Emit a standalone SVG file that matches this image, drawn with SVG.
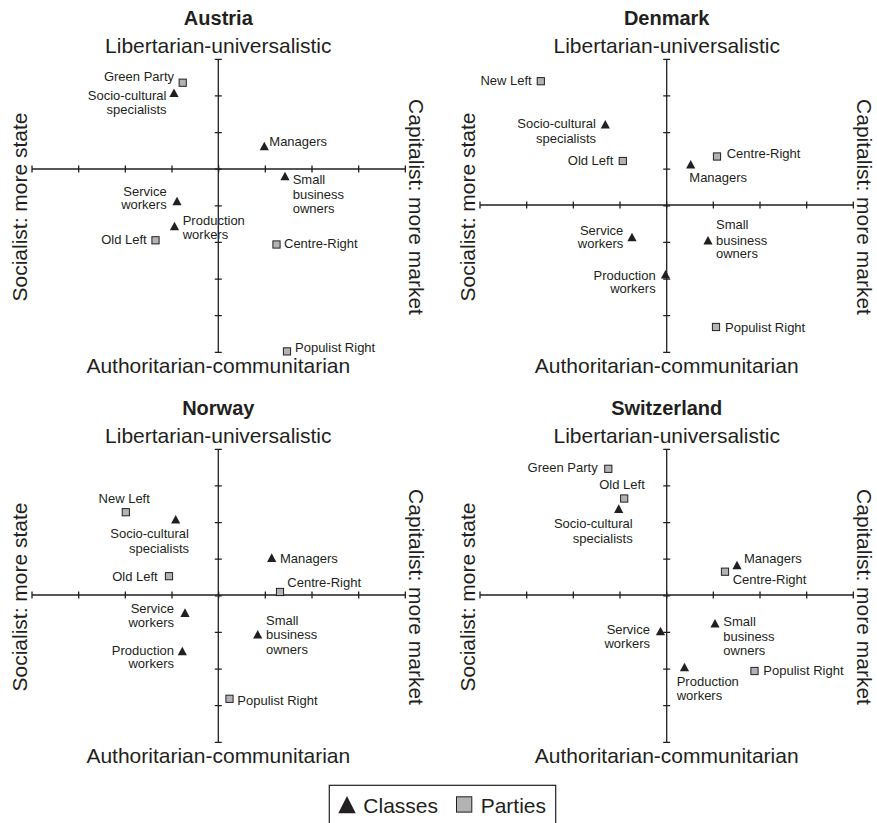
<svg xmlns="http://www.w3.org/2000/svg" xmlns:xlink="http://www.w3.org/1999/xlink" width="877" height="823" viewBox="0 0 877 823">
<style>
text{font-family:"Liberation Sans",Arial,Helvetica,sans-serif;fill:#231f20}
.title{font-size:20px;font-weight:bold;text-anchor:middle}
.ax{font-size:21px;text-anchor:middle}
.lb{font-size:13px}
.e{text-anchor:end}
.m{text-anchor:middle}
.axis{stroke:#231f20;stroke-width:1.3;fill:none}
.sq{fill:#b3b3b5;stroke:#231f20;stroke-width:1}
.tri{fill:#231f20}
</style>
<defs>
<path id="tri" class="tri" d="M0,0 L4.6,8.6 L-4.6,8.6 Z"/>
<rect id="sq" class="sq" x="-3.6" y="-3.6" width="7.2" height="7.2"/>
<path id="hticks" class="axis" d="M0,-3.5v7M46.67,-3.5v7M93.33,-3.5v7M140,-3.5v7M186.67,-3.5v7M233.33,-3.5v7M280,-3.5v7M326.67,-3.5v7M373.33,-3.5v7M0,0H373.33"/>
<path id="vticks" class="axis" d="M-3.5,0h7M-3.5,36.625h7M-3.5,73.25h7M-3.5,109.875h7M-3.5,146.5h7M-3.5,183.125h7M-3.5,219.75h7M-3.5,256.375h7M-3.5,293h7M0,0V293"/>
</defs>

<!-- Panel frames (axes and axis labels) -->
<g id="axes">
  <g id="frame-austria">
    <text class="title" x="218.3" y="25">Austria</text>
    <text class="ax" x="218.3" y="53.3">Libertarian-universalistic</text>
    <text class="ax" x="218.3" y="372.7">Authoritarian-communitarian</text>
    <text class="ax" transform="translate(27,207) rotate(-90)">Socialist: more state</text>
    <text class="ax" transform="translate(409,207) rotate(90)">Capitalist: more market</text>
    <use xlink:href="#vticks" x="218.3" y="59.3"/>
    <use xlink:href="#hticks" x="32" y="169"/>
  </g>
  <g id="frame-denmark">
    <text class="title" x="666.7" y="25">Denmark</text>
    <text class="ax" x="666.7" y="53.3">Libertarian-universalistic</text>
    <text class="ax" x="666.7" y="372.7">Authoritarian-communitarian</text>
    <text class="ax" transform="translate(475.4,207) rotate(-90)">Socialist: more state</text>
    <text class="ax" transform="translate(857.4,207) rotate(90)">Capitalist: more market</text>
    <use xlink:href="#vticks" x="666.7" y="59.3"/>
    <use xlink:href="#hticks" x="480" y="205"/>
  </g>
  <g id="frame-norway">
    <text class="title" x="218.3" y="415">Norway</text>
    <text class="ax" x="218.3" y="443.3">Libertarian-universalistic</text>
    <text class="ax" x="218.3" y="762.7">Authoritarian-communitarian</text>
    <text class="ax" transform="translate(27,597) rotate(-90)">Socialist: more state</text>
    <text class="ax" transform="translate(409,597) rotate(90)">Capitalist: more market</text>
    <use xlink:href="#vticks" x="218.3" y="449.3"/>
    <use xlink:href="#hticks" x="32" y="595"/>
  </g>
  <g id="frame-switzerland">
    <text class="title" x="666.7" y="415">Switzerland</text>
    <text class="ax" x="666.7" y="443.3">Libertarian-universalistic</text>
    <text class="ax" x="666.7" y="762.7">Authoritarian-communitarian</text>
    <text class="ax" transform="translate(475.4,597) rotate(-90)">Socialist: more state</text>
    <text class="ax" transform="translate(857.4,597) rotate(90)">Capitalist: more market</text>
    <use xlink:href="#vticks" x="666.7" y="449.3"/>
    <use xlink:href="#hticks" x="480" y="595"/>
  </g>
</g>

<!-- Austria -->
<g id="at-green"><use xlink:href="#sq" x="182.7" y="82.7"/><text class="lb e" x="174" y="81">Green Party</text></g>
<g id="at-socio"><use xlink:href="#tri" x="174" y="88.5"/><text class="lb e" x="166.5" y="100">Socio-cultural</text><text class="lb e" x="166.5" y="114">specialists</text></g>
<g id="at-managers"><use xlink:href="#tri" x="264.3" y="141.7"/><text class="lb" x="269.3" y="145.7">Managers</text></g>
<g id="at-small"><use xlink:href="#tri" x="285" y="171.7"/><text class="lb" x="292.7" y="184.3">Small</text><text class="lb" x="292.7" y="198.5">business</text><text class="lb" x="292.7" y="213">owners</text></g>
<g id="at-service"><use xlink:href="#tri" x="177" y="196.7"/><text class="lb e" x="166.7" y="195.5">Service</text><text class="lb e" x="166.7" y="209">workers</text></g>
<g id="at-production"><use xlink:href="#tri" x="174.5" y="221.7"/><text class="lb" x="182.7" y="225">Production</text><text class="lb" x="182.7" y="238.5">workers</text></g>
<g id="at-oldleft"><use xlink:href="#sq" x="155.5" y="240.3"/><text class="lb e" x="146.7" y="244.3">Old Left</text></g>
<g id="at-centreright"><use xlink:href="#sq" x="276.5" y="244.5"/><text class="lb" x="284" y="248.3">Centre-Right</text></g>
<g id="at-populist"><use xlink:href="#sq" x="287" y="351.4"/><text class="lb" x="295" y="352">Populist Right</text></g>

<!-- Denmark -->
<g id="dk-newleft"><use xlink:href="#sq" x="540.8" y="81.2"/><text class="lb e" x="531.7" y="85">New Left</text></g>
<g id="dk-socio"><use xlink:href="#tri" x="605.3" y="120"/><text class="lb e" x="596" y="128.3">Socio-cultural</text><text class="lb e" x="596" y="142.7">specialists</text></g>
<g id="dk-oldleft"><use xlink:href="#sq" x="622.8" y="161"/><text class="lb e" x="613.3" y="165">Old Left</text></g>
<g id="dk-managers"><use xlink:href="#tri" x="690.7" y="160"/><text class="lb" x="689.3" y="181.7">Managers</text></g>
<g id="dk-centreright"><use xlink:href="#sq" x="717" y="156.5"/><text class="lb" x="726.7" y="158.3">Centre-Right</text></g>
<g id="dk-service"><use xlink:href="#tri" x="632" y="232.7"/><text class="lb e" x="623.3" y="235">Service</text><text class="lb e" x="623.3" y="248.3">workers</text></g>
<g id="dk-small"><use xlink:href="#tri" x="708" y="236"/><text class="lb" x="716" y="229.3">Small</text><text class="lb" x="716" y="245">business</text><text class="lb" x="716" y="258.3">owners</text></g>
<g id="dk-production"><use xlink:href="#tri" x="665.5" y="270"/><text class="lb e" x="655.7" y="280">Production</text><text class="lb e" x="655.7" y="293.3">workers</text></g>
<g id="dk-populist"><use xlink:href="#sq" x="716" y="327"/><text class="lb" x="725" y="331.7">Populist Right</text></g>

<!-- Norway -->
<g id="no-newleft"><use xlink:href="#sq" x="125.8" y="512.2"/><text class="lb m" x="124.2" y="503.3">New Left</text></g>
<g id="no-socio"><use xlink:href="#tri" x="175.7" y="515"/><text class="lb e" x="189" y="538.3">Socio-cultural</text><text class="lb e" x="189" y="553.3">specialists</text></g>
<g id="no-managers"><use xlink:href="#tri" x="271.7" y="553.3"/><text class="lb" x="280" y="563.3">Managers</text></g>
<g id="no-oldleft"><use xlink:href="#sq" x="169" y="576.2"/><text class="lb e" x="157.7" y="580.7">Old Left</text></g>
<g id="no-centreright"><use xlink:href="#sq" x="280" y="592"/><text class="lb" x="287.3" y="586.7">Centre-Right</text></g>
<g id="no-service"><use xlink:href="#tri" x="185" y="608.3"/><text class="lb e" x="174" y="613.3">Service</text><text class="lb e" x="174" y="626.7">workers</text></g>
<g id="no-small"><use xlink:href="#tri" x="257.7" y="630"/><text class="lb" x="266" y="625">Small</text><text class="lb" x="266" y="639.3">business</text><text class="lb" x="266" y="654">owners</text></g>
<g id="no-production"><use xlink:href="#tri" x="182.3" y="646.7"/><text class="lb e" x="174" y="655">Production</text><text class="lb e" x="174" y="668.3">workers</text></g>
<g id="no-populist"><use xlink:href="#sq" x="229.5" y="698.8"/><text class="lb" x="237.3" y="705">Populist Right</text></g>

<!-- Switzerland -->
<g id="ch-green"><use xlink:href="#sq" x="608.3" y="468.8"/><text class="lb e" x="597.7" y="472.3">Green Party</text></g>
<g id="ch-oldleft"><use xlink:href="#sq" x="624.2" y="498.5"/><text class="lb m" x="622" y="489.3">Old Left</text></g>
<g id="ch-socio"><use xlink:href="#tri" x="618.7" y="504.3"/><text class="lb e" x="632.7" y="527.7">Socio-cultural</text><text class="lb e" x="632.7" y="542.7">specialists</text></g>
<g id="ch-managers"><use xlink:href="#tri" x="737" y="560.7"/><text class="lb" x="744" y="562.7">Managers</text></g>
<g id="ch-centreright"><use xlink:href="#sq" x="725" y="571.7"/><text class="lb" x="732.7" y="584.3">Centre-Right</text></g>
<g id="ch-service"><use xlink:href="#tri" x="660.5" y="626.7"/><text class="lb e" x="650" y="634">Service</text><text class="lb e" x="650" y="648.3">workers</text></g>
<g id="ch-small"><use xlink:href="#tri" x="715" y="619"/><text class="lb" x="723.3" y="625.7">Small</text><text class="lb" x="723.3" y="641">business</text><text class="lb" x="723.3" y="655">owners</text></g>
<g id="ch-production"><use xlink:href="#tri" x="684.5" y="662.7"/><text class="lb" x="676.7" y="686">Production</text><text class="lb" x="676.7" y="700">workers</text></g>
<g id="ch-populist"><use xlink:href="#sq" x="754.5" y="671"/><text class="lb" x="763.3" y="675">Populist Right</text></g>

<!-- Legend -->
<g id="legend">
  <rect x="329.3" y="785.3" width="226.4" height="45" fill="#fff" stroke="#231f20" stroke-width="1.2"/>
  <path class="tri" d="M347,796 L355.7,813.3 L338.3,813.3 Z"/>
  <text class="ax" style="text-anchor:start" x="363.3" y="813.3">Classes</text>
  <rect class="sq" x="456.5" y="796.8" width="15.3" height="15.3" stroke-width="1.3"/>
  <text class="ax" style="text-anchor:start" x="480.7" y="813.3">Parties</text>
</g>
</svg>
